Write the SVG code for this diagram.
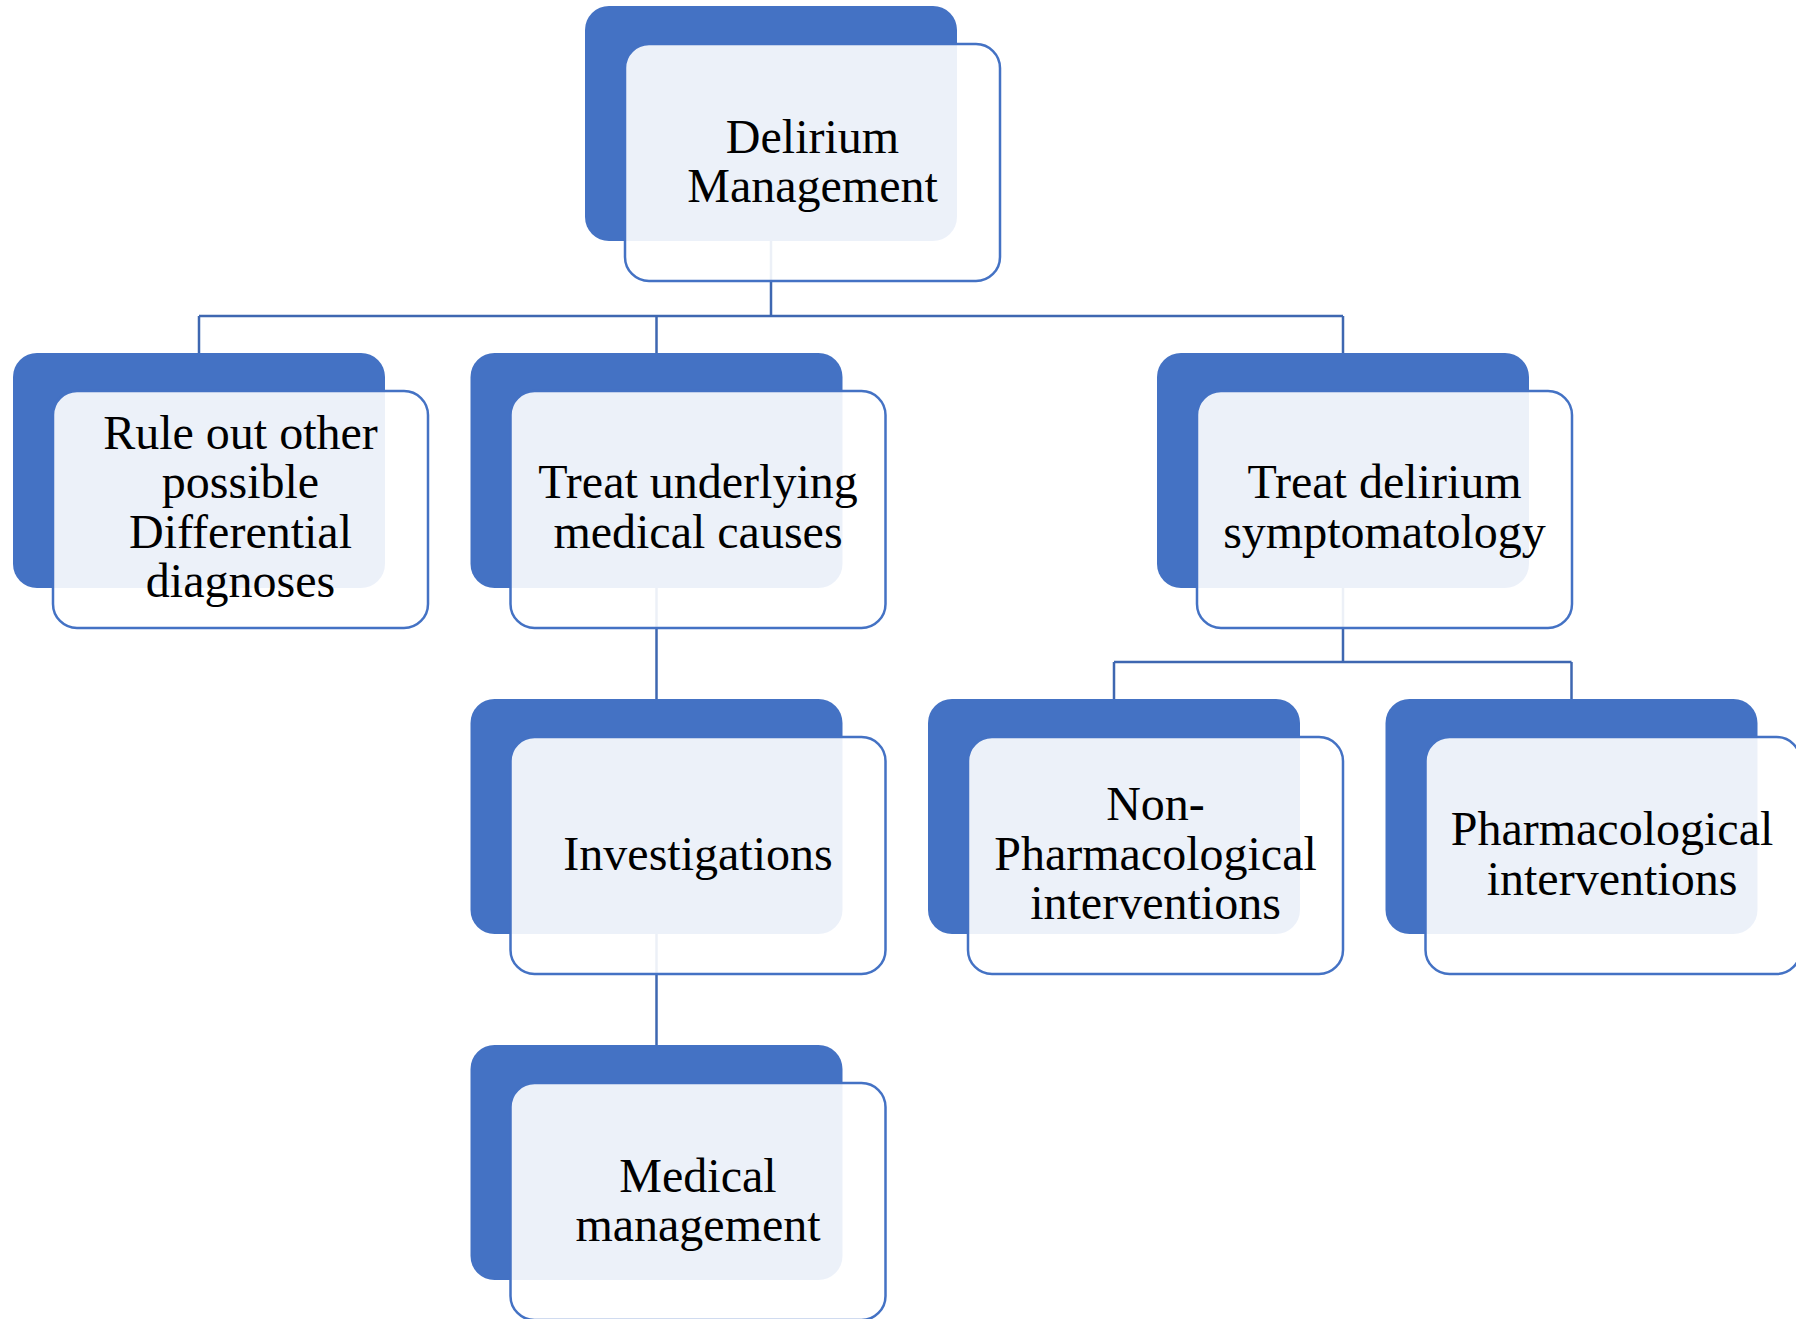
<svg xmlns="http://www.w3.org/2000/svg" width="1796" height="1319" viewBox="0 0 1796 1319">
<style>
.back{fill:#4472C4;}
.front{fill:#FFFFFF;fill-opacity:0.9;stroke:#4472C4;stroke-width:2.5;}
.lbl{font-family:"Liberation Serif","Times New Roman",serif;font-size:48px;fill:#000;text-anchor:middle;}
.conn{fill:none;stroke:#3E67B1;stroke-width:2.5;}
</style>
<rect width="1796" height="1319" fill="#FFFFFF"/>
<g id="connectors">
<path class="conn" d="M771,241 V316 M199,316 H1343 M199,316 V353 M656.5,316 V353 M1343,316 V353"/>
<path class="conn" d="M656.5,588 V699"/>
<path class="conn" d="M656.5,934 V1045"/>
<path class="conn" d="M1343,588 V662 M1114,662 H1571.5 M1114,662 V699 M1571.5,662 V699"/>
</g>
<g id="node-delirium-management">
<rect class="back" x="585" y="6" width="372" height="235" rx="24"/>
<rect class="front" x="625" y="44" width="375" height="237" rx="24"/>
<text class="lbl"><tspan x="812.5" y="153">Delirium</tspan><tspan x="812.5" y="202">Management</tspan></text>
</g>
<g id="node-rule-out">
<rect class="back" x="13" y="353" width="372" height="235" rx="24"/>
<rect class="front" x="53" y="391" width="375" height="237" rx="24"/>
<text class="lbl"><tspan x="240.5" y="448.5">Rule out other</tspan><tspan x="240.5" y="498">possible</tspan><tspan x="240.5" y="547.5">Differential</tspan><tspan x="240.5" y="597">diagnoses</tspan></text>
</g>
<g id="node-treat-underlying">
<rect class="back" x="470.5" y="353" width="372" height="235" rx="24"/>
<rect class="front" x="510.5" y="391" width="375" height="237" rx="24"/>
<text class="lbl"><tspan x="698" y="498">Treat underlying</tspan><tspan x="698" y="547.5">medical causes</tspan></text>
</g>
<g id="node-treat-delirium">
<rect class="back" x="1157" y="353" width="372" height="235" rx="24"/>
<rect class="front" x="1197" y="391" width="375" height="237" rx="24"/>
<text class="lbl"><tspan x="1384.5" y="498">Treat delirium</tspan><tspan x="1384.5" y="547.5">symptomatology</tspan></text>
</g>
<g id="node-investigations">
<rect class="back" x="470.5" y="699" width="372" height="235" rx="24"/>
<rect class="front" x="510.5" y="737" width="375" height="237" rx="24"/>
<text class="lbl"><tspan x="698" y="870">Investigations</tspan></text>
</g>
<g id="node-non-pharmacological">
<rect class="back" x="928" y="699" width="372" height="235" rx="24"/>
<rect class="front" x="968" y="737" width="375" height="237" rx="24"/>
<text class="lbl"><tspan x="1155.5" y="820">Non-</tspan><tspan x="1155.5" y="869.5">Pharmacological</tspan><tspan x="1155.5" y="919">interventions</tspan></text>
</g>
<g id="node-pharmacological">
<rect class="back" x="1385.5" y="699" width="372" height="235" rx="24"/>
<rect class="front" x="1425.5" y="737" width="375" height="237" rx="24"/>
<text class="lbl"><tspan x="1612" y="845">Pharmacological</tspan><tspan x="1612" y="894.5">interventions</tspan></text>
</g>
<g id="node-medical-management">
<rect class="back" x="470.5" y="1045" width="372" height="235" rx="24"/>
<rect class="front" x="510.5" y="1083" width="375" height="237" rx="24"/>
<text class="lbl"><tspan x="698" y="1191.5">Medical</tspan><tspan x="698" y="1241">management</tspan></text>
</g>
</svg>
